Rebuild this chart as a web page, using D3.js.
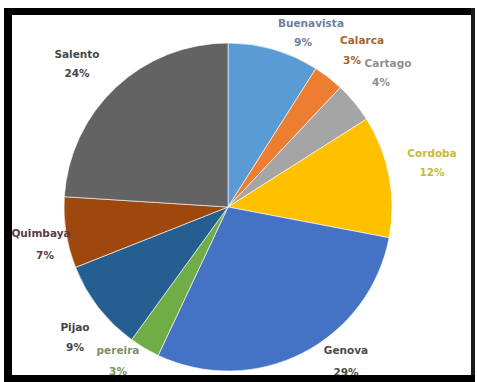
<!DOCTYPE html>
<html>
<head>
<meta charset="utf-8">
<script src="https://cdn.jsdelivr.net/npm/d3@7"></script>
<style>
  html, body { margin: 0; padding: 0; background: #fff; }
  svg { display: block; }
</style>
</head>
<body>
<svg id="chart" width="477" height="382"></svg>
<script>
const categories = ["Buenavista", "Calarca", "Cartago", "Cordoba", "Genova", "pereira", "Pijao", "Quimbaya", "Salento"];
const values = [9, 3, 4, 12, 29, 3, 9, 7, 24];
const percentLabels = ["9%", "3%", "4%", "12%", "29%", "3%", "9%", "7%", "24%"];
const sliceColors = ["#5b9bd5", "#ed7d31", "#a5a5a5", "#ffc000", "#4472c4", "#70ad47", "#255e91", "#9e480e", "#636363"];
const labelColors = ["#6d7f9c", "#a8632a", "#8f8f8f", "#c9b93a", "#4a4a4a", "#7e9064", "#454545", "#5a3b45", "#474747"];

const svg = d3.select("#chart");
const W = 477, H = 382;
svg.append("rect").attr("width", W).attr("height", H).attr("fill", "#fff");

const cx = 228, cy = 207, r = 164;
const g = svg.append("g").attr("transform", `translate(${cx},${cy})`);

const data = categories.map((c, i) => ({ name: c, value: values[i], pct: percentLabels[i], color: sliceColors[i], lc: labelColors[i] }));
const pie = d3.pie().value(d => d.value).sort(null);
const arc = d3.arc().innerRadius(0).outerRadius(r);
const arcs = pie(data);

g.selectAll("path.slice").data(arcs).join("path")
  .attr("class", "slice")
  .attr("d", arc)
  .attr("fill", d => d.data.color)
  .attr("stroke", "#fff")
  .attr("stroke-width", 0.6);

// label positions: outside radius factors per slice (anchor centers)
const labelArc = d3.arc().innerRadius(r).outerRadius(r);
const offsets = [
  [1.08, 0, -8], [1.12, 12, -4], [1.13, 18, -2], [1.22, 8, -4],
  [1.12, 10, -2], [1.15, -8, 0], [1.12, -4, 0], [1.14, -4, 0], [1.10, 4, 0]
];
const fixedPos = [
  [311, 23], [362, 40], [388, 63], [432, 153], [346, 350], [118, 350], [75, 327], [41, 233], [77, 54]
];
const pctPos = [
  [303, 42], [352, 60], [381, 82], [432, 172], [346, 372], [118, 371], [75, 347], [45, 255], [77, 73]
];

const labels = svg.append("g").attr("font-family", "DejaVu Sans, sans-serif").attr("font-weight", "bold").attr("font-size", 10.5).attr("text-anchor", "middle");
arcs.forEach((a, i) => {
  labels.append("text").attr("x", fixedPos[i][0]).attr("y", fixedPos[i][1]).attr("dy", "0.35em")
    .attr("fill", a.data.lc).text(a.data.name);
  labels.append("text").attr("x", pctPos[i][0]).attr("y", pctPos[i][1]).attr("dy", "0.35em")
    .attr("fill", a.data.lc).text(a.data.pct);
});

// frame
svg.append("rect").attr("x", 4).attr("y", 8).attr("width", 471).attr("height", 7).attr("fill", "#000");
svg.append("rect").attr("x", 4).attr("y", 8).attr("width", 8).attr("height", 374).attr("fill", "#000");
svg.append("rect").attr("x", 471).attr("y", 8).attr("width", 4).attr("height", 374).attr("fill", "#1a1a1a");
svg.append("rect").attr("x", 4).attr("y", 375).attr("width", 471).attr("height", 7).attr("fill", "#000");
</script>
</body>
</html>
